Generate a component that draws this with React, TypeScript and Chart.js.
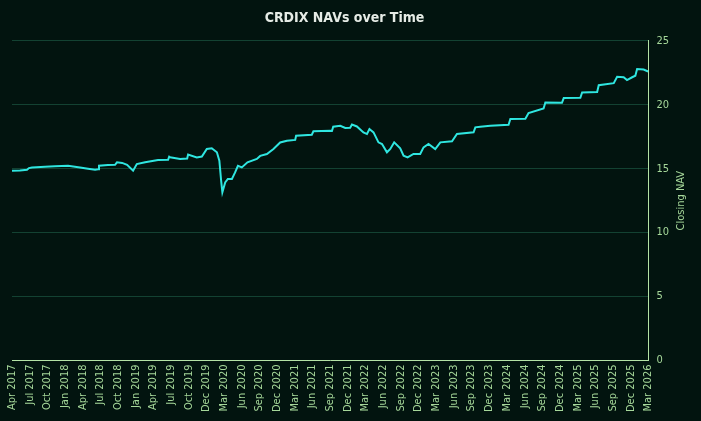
import React, { useEffect, useRef } from "react";
import { Chart, registerables } from "chart.js";

Chart.register(...registerables);

const tickLabels = [
  "Apr 2017", "Jul 2017", "Oct 2017", "Jan 2018", "Apr 2018", "Jul 2018", "Oct 2018",
  "Jan 2019", "Apr 2019", "Jul 2019", "Oct 2019", "Dec 2019", "Mar 2020", "Jun 2020",
  "Sep 2020", "Dec 2020", "Mar 2021", "Jun 2021", "Sep 2021", "Dec 2021", "Mar 2022",
  "Jun 2022", "Sep 2022", "Dec 2022", "Mar 2023", "Jun 2023", "Sep 2023", "Dec 2023",
  "Mar 2024", "Jun 2024", "Sep 2024", "Dec 2024", "Mar 2025", "Jun 2025", "Sep 2025",
  "Dec 2025", "Mar 2026",
];

// position along the date axis, in tick-label steps since Apr 2017
const navPositions = [
  0, 0.45, 0.85, 0.96, 1.13, 1.87, 2.43, 3.17, 3.85, 4.3, 4.7, 4.87, 4.92, 5.43, 5.83, 5.94,
  6.23, 6.51, 6.85, 7.06, 7.53, 8.26, 8.83, 8.89, 8.94, 9.51, 9.91, 9.96, 10.45, 10.74, 11.02,
  11.3, 11.59, 11.73, 11.83, 11.9, 12.06, 12.21, 12.44, 12.62, 12.78, 13.0, 13.32, 13.85, 14.04,
  14.42, 14.79, 15.17, 15.55, 16.02, 16.07, 16.96, 17.05, 18.0, 18.1, 18.17, 18.57, 18.85, 19.13,
  19.23, 19.51, 19.88, 20.08, 20.22, 20.45, 20.73, 20.93, 21.21, 21.4, 21.62, 21.96, 22.15, 22.38,
  22.71, 23.09, 23.28, 23.56, 23.94, 24.23, 24.89, 25.17, 26.11, 26.21, 26.49, 27.06, 28.09, 28.19,
  29.04, 29.22, 30.07, 30.17, 31.11, 31.21, 32.15, 32.25, 33.1, 33.19, 34.04, 34.23, 34.6, 34.79,
  35.08, 35.26, 35.36, 35.73, 35.98,
];

const navValues = [
  14.84, 14.86, 14.92, 15.05, 15.1, 15.15, 15.2, 15.23, 15.1, 15.0, 14.92, 14.95, 15.23, 15.28, 15.3, 15.5,
  15.45, 15.3, 14.84, 15.36, 15.5, 15.68, 15.7, 15.94, 15.9, 15.76, 15.8, 16.1, 15.88, 15.95, 16.54,
  16.6, 16.28, 15.63, 14.06, 13.15, 13.93, 14.2, 14.2, 14.71, 15.23, 15.1, 15.5, 15.76, 16.0,
  16.15, 16.54, 17.05, 17.19, 17.25, 17.58, 17.66, 17.92, 17.97, 17.95, 18.28, 18.36, 18.18, 18.2,
  18.45, 18.3, 17.84, 17.71, 18.1, 17.84, 17.06, 16.93, 16.28, 16.54, 17.06, 16.6, 16.02, 15.89,
  16.15, 16.15, 16.67, 16.93, 16.54, 17.06, 17.15, 17.71, 17.84, 18.23, 18.28, 18.36, 18.44, 18.88,
  18.9, 19.35, 19.71, 20.18, 20.15, 20.52, 20.55, 20.96, 21.0, 21.53, 21.69, 22.19, 22.15, 21.93,
  22.15, 22.27, 22.79, 22.75, 22.6,
];

const yTicks = [0, 5, 10, 15, 20, 25];
const titleText = "CRDIX NAVs over Time";
const yAxisTitle = "Closing NAV";

const BG = "#02140f";
const LABEL = "#a6d89a";
const FONT = "'DejaVu Sans Condensed', 'DejaVu Sans', sans-serif";

const yTitlePlugin = {
  id: "yTitleUp",
  afterDraw(chart: any) {
    const { ctx, chartArea } = chart;
    ctx.save();
    ctx.translate(681, (chartArea.top + chartArea.bottom) / 2);
    ctx.rotate(-Math.PI / 2);
    ctx.fillStyle = LABEL;
    ctx.font = `11px ${FONT}`;
    ctx.textAlign = "center";
    ctx.textBaseline = "middle";
    ctx.fillText(yAxisTitle, 0, 0);
    ctx.restore();
  },
};

export default function App() {
  const ref = useRef<HTMLCanvasElement>(null);

  useEffect(() => {
    document.body.style.margin = "0";
    document.body.style.background = BG;
    const canvas = ref.current;
    if (!canvas) return;
    const chart = new Chart(canvas, {
      type: "line",
      data: {
        datasets: [
          {
            label: "CRDIX",
            data: navPositions.map((x, i) => ({ x, y: navValues[i] })),
            borderColor: "#2fe6e0",
            borderWidth: 2,
            pointRadius: 0,
            tension: 0,
            fill: false,
          },
        ],
      },
      options: {
        animation: false,
        responsive: false,
        maintainAspectRatio: false,
        layout: { padding: { left: 12, right: 24, top: 0, bottom: 5 } },
        plugins: {
          legend: { display: false },
          tooltip: { enabled: false },
          title: {
            display: true,
            text: titleText,
            color: "#e6ece6",
            font: { family: FONT, size: 14, weight: "bold" },
            padding: { top: 10, bottom: 14 },
          },
        },
        scales: {
          x: {
            type: "linear",
            min: 0,
            max: tickLabels.length - 1,
            afterBuildTicks: (axis: any) => {
              axis.ticks = tickLabels.map((_, i) => ({ value: i }));
            },
            ticks: {
              autoSkip: false,
              maxRotation: 90,
              minRotation: 90,
              color: LABEL,
              font: { family: FONT, size: 11 },
              padding: 4,
              callback: (v: any) => tickLabels[Math.round(Number(v))] ?? "",
            },
            grid: { display: false, drawTicks: false },
            border: { display: true, color: "#b4e3a6", width: 1 },
          },
          y: {
            type: "linear",
            position: "right",
            min: 0,
            max: 25,
            afterBuildTicks: (axis: any) => {
              axis.ticks = yTicks.map((v) => ({ value: v }));
            },
            ticks: {
              color: LABEL,
              font: { family: FONT, size: 11 },
              padding: 8,
            },
            grid: { color: "#134232", drawTicks: false, lineWidth: 1 },
            border: { display: true, color: "#b4e3a6", width: 1 },
          },
        },
      },
      plugins: [yTitlePlugin],
    });
    return () => chart.destroy();
  }, []);

  return (
    <div style={{ width: 701, height: 421, background: BG }}>
      <canvas ref={ref} width={701} height={421} style={{ display: "block" }} />
    </div>
  );
}
